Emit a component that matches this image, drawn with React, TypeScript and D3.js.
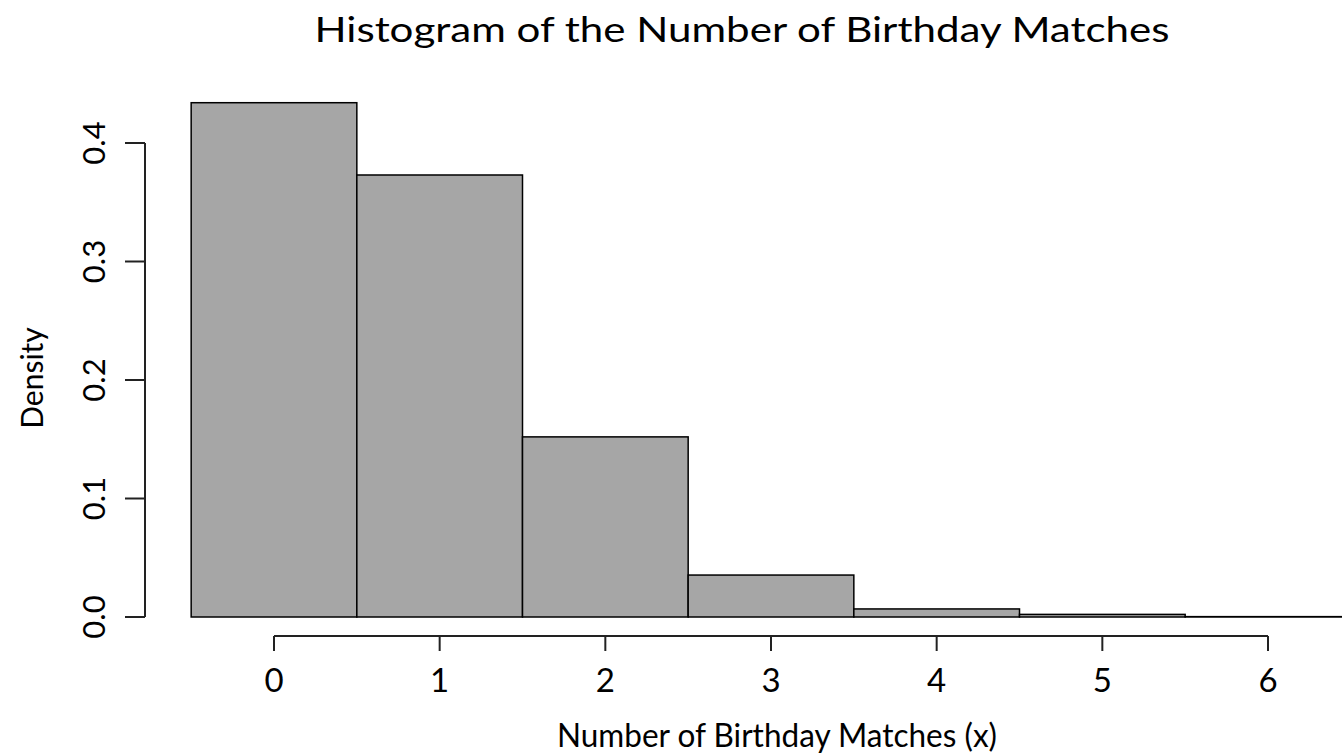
import React from "react";
import * as d3 from "d3";

// Histogram bins: number of birthday matches and their density
const matchCounts = [0, 1, 2, 3, 4, 5, 6];
const densities = [0.434, 0.373, 0.152, 0.0354, 0.0068, 0.0022, 0.0003];
const xTicks = [0, 1, 2, 3, 4, 5, 6];
const yTicks = [0, 0.1, 0.2, 0.3, 0.4];

const titleText = "Histogram of the Number of Birthday Matches";
const xLabel = "Number of Birthday Matches (x)";
const yLabel = "Density";

const W = 1342;
const H = 754;
const FONT = "Lato, 'Open Sans', sans-serif";

export default function App() {
  const x = d3.scaleLinear().domain([0, 6]).range([274, 1268]);
  const y = d3.scaleLinear().domain([0, 0.4]).range([617, 143]);
  const half = 0.5;

  const axisY = 636;
  const axisX = 145;

  return (
    <svg
      width={W}
      height={H}
      style={{ position: "absolute", left: 0, top: 0, background: "#fff" }}
      fontFamily={FONT}
    >
      <text
        x={742}
        y={42}
        textAnchor="middle"
        fontSize={35}
        textLength={855}
        lengthAdjust="spacingAndGlyphs"
        fill="#000"
      >
        {titleText}
      </text>

      {/* bars */}
      {matchCounts.map((m, i) => (
        <rect
          key={m}
          x={x(m - half)}
          y={y(densities[i])}
          width={x(m + half) - x(m - half)}
          height={y(0) - y(densities[i])}
          fill="#a6a6a6"
          stroke="#000"
          strokeWidth={1.5}
        />
      ))}

      {/* x axis */}
      <line x1={x(xTicks[0])} x2={x(xTicks[xTicks.length - 1])} y1={axisY} y2={axisY} stroke="#222" strokeWidth={2} />
      {xTicks.map((t) => (
        <g key={t}>
          <line x1={x(t)} x2={x(t)} y1={axisY} y2={axisY + 15} stroke="#222" strokeWidth={2} />
          <text x={x(t)} y={692} textAnchor="middle" fontSize={33} fill="#000">
            {t}
          </text>
        </g>
      ))}

      {/* y axis */}
      <line x1={axisX} x2={axisX} y1={y(0)} y2={y(0.4)} stroke="#222" strokeWidth={2} />
      {yTicks.map((t) => (
        <g key={t}>
          <line x1={axisX - 20} x2={axisX} y1={y(t)} y2={y(t)} stroke="#222" strokeWidth={2} />
          <text
            transform={`translate(105,${y(t)}) rotate(-90)`}
            textAnchor="middle"
            fontSize={31}
            fill="#000"
          >
            {t.toFixed(1)}
          </text>
        </g>
      ))}

      <text
        x={777}
        y={747}
        textAnchor="middle"
        fontSize={33}
        textLength={440}
        lengthAdjust="spacingAndGlyphs"
        fill="#000"
      >
        {xLabel}
      </text>
      <text
        transform={`translate(43,378) rotate(-90)`}
        textAnchor="middle"
        fontSize={30}
        fill="#000"
      >
        {yLabel}
      </text>
    </svg>
  );
}
